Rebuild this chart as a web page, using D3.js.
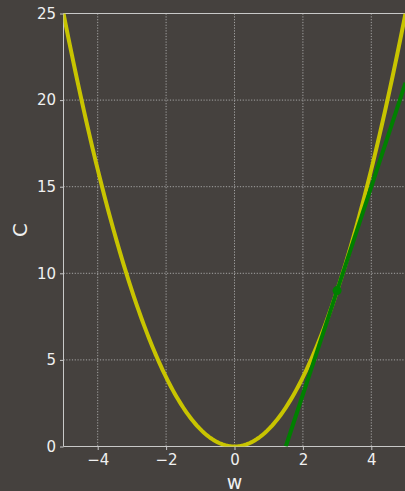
<!DOCTYPE html>
<html>
<head>
<meta charset="utf-8">
<script src="https://cdn.jsdelivr.net/npm/d3@7"></script>
<style>
  html, body { margin: 0; padding: 0; background: #45413e; overflow: hidden; }
  svg { display: block; font-family: "DejaVu Sans", sans-serif; }
</style>
</head>
<body>
<svg id="chart" width="405" height="491"></svg>
<script>
// Cost curve C = w^2 sampled along w
const wSamples = d3.range(-5, 5.0001, 0.05);
const costValues = wSamples.map(w => w * w);
// Tangent to the curve at w = 3 (slope 6), from its zero crossing to the right edge
const tangentW = [1.5, 5];
const tangentC = [0, 21];
const tangentPoint = { w: 3, C: 9 };
// Axis ticks
const xTicks = [-4, -2, 0, 2, 4];
const yTicks = [0, 5, 10, 15, 20, 25];

const svg = d3.select("#chart");
const margin = { left: 63.5, top: 13.5, right: 405.5, bottom: 446.5 };

const x = d3.scaleLinear().domain([-5, 5]).range([margin.left, margin.right]);
const y = d3.scaleLinear().domain([0, 25]).range([margin.bottom, margin.top]);

const textColor = "#f0f0f0";
const spineColor = "#c8c8c8";

svg.append("defs").append("clipPath").attr("id", "plotClip")
  .append("rect")
  .attr("x", margin.left).attr("y", margin.top)
  .attr("width", margin.right - margin.left)
  .attr("height", margin.bottom - margin.top);

// Dotted grid
const grid = svg.append("g");
grid.selectAll("line.gx").data(xTicks).join("line")
  .attr("x1", d => x(d)).attr("x2", d => x(d))
  .attr("y1", margin.top).attr("y2", margin.bottom)
  .attr("stroke", "#b0b0b0").attr("stroke-width", 0.9)
  .attr("stroke-dasharray", "1.2,1.6");
grid.selectAll("line.gy").data(yTicks).join("line")
  .attr("y1", d => y(d)).attr("y2", d => y(d))
  .attr("x1", margin.left).attr("x2", margin.right)
  .attr("stroke", "#b0b0b0").attr("stroke-width", 0.9)
  .attr("stroke-dasharray", "1.2,1.6");

// Spines
const spines = svg.append("g").attr("stroke", spineColor).attr("stroke-width", 1);
spines.append("line").attr("x1", margin.left).attr("x2", margin.left)
  .attr("y1", margin.top).attr("y2", margin.bottom);
spines.append("line").attr("x1", margin.left).attr("x2", margin.right)
  .attr("y1", margin.bottom).attr("y2", margin.bottom);
spines.append("line").attr("x1", margin.left).attr("x2", margin.right)
  .attr("y1", margin.top).attr("y2", margin.top);
spines.append("line").attr("x1", margin.right).attr("x2", margin.right)
  .attr("y1", margin.top).attr("y2", margin.bottom);

// Axes
const fmt = d => (d < 0 ? "\u2212" + Math.abs(d) : String(d));
const xAxis = svg.append("g")
  .attr("transform", `translate(0,${margin.bottom})`)
  .call(d3.axisBottom(x).tickValues(xTicks).tickFormat(fmt).tickSize(3.5).tickPadding(4));
const yAxis = svg.append("g")
  .attr("transform", `translate(${margin.left},0)`)
  .call(d3.axisLeft(y).tickValues(yTicks).tickFormat(fmt).tickSize(3.5).tickPadding(4));
[xAxis, yAxis].forEach(a => {
  a.select(".domain").remove();
  a.selectAll(".tick line").attr("stroke", spineColor);
  a.selectAll(".tick text").attr("fill", textColor)
    .style("font-size", "15px").style("font-family", "DejaVu Sans, sans-serif");
});

// Axis labels
svg.append("text").attr("x", x(0)).attr("y", 489)
  .attr("text-anchor", "middle").attr("fill", textColor)
  .style("font-size", "19px").text("w");
svg.append("text")
  .attr("transform", `translate(27,${(margin.top + margin.bottom) / 2}) rotate(-90)`)
  .attr("text-anchor", "middle").attr("fill", textColor)
  .style("font-size", "20px").text("C");

// Curves
const plot = svg.append("g").attr("clip-path", "url(#plotClip)");
const line = d3.line().x(d => x(d[0])).y(d => y(d[1]));

plot.append("path")
  .datum(wSamples.map((w, i) => [w, costValues[i]]))
  .attr("d", line)
  .attr("fill", "none").attr("stroke", "#c8c400").attr("stroke-width", 4);

plot.append("path")
  .datum(tangentW.map((w, i) => [w, tangentC[i]]))
  .attr("d", line)
  .attr("fill", "none").attr("stroke", "#008000").attr("stroke-width", 4);

plot.append("circle")
  .attr("cx", x(tangentPoint.w)).attr("cy", y(tangentPoint.C))
  .attr("r", 4.5).attr("fill", "#008000");
</script>
</body>
</html>
